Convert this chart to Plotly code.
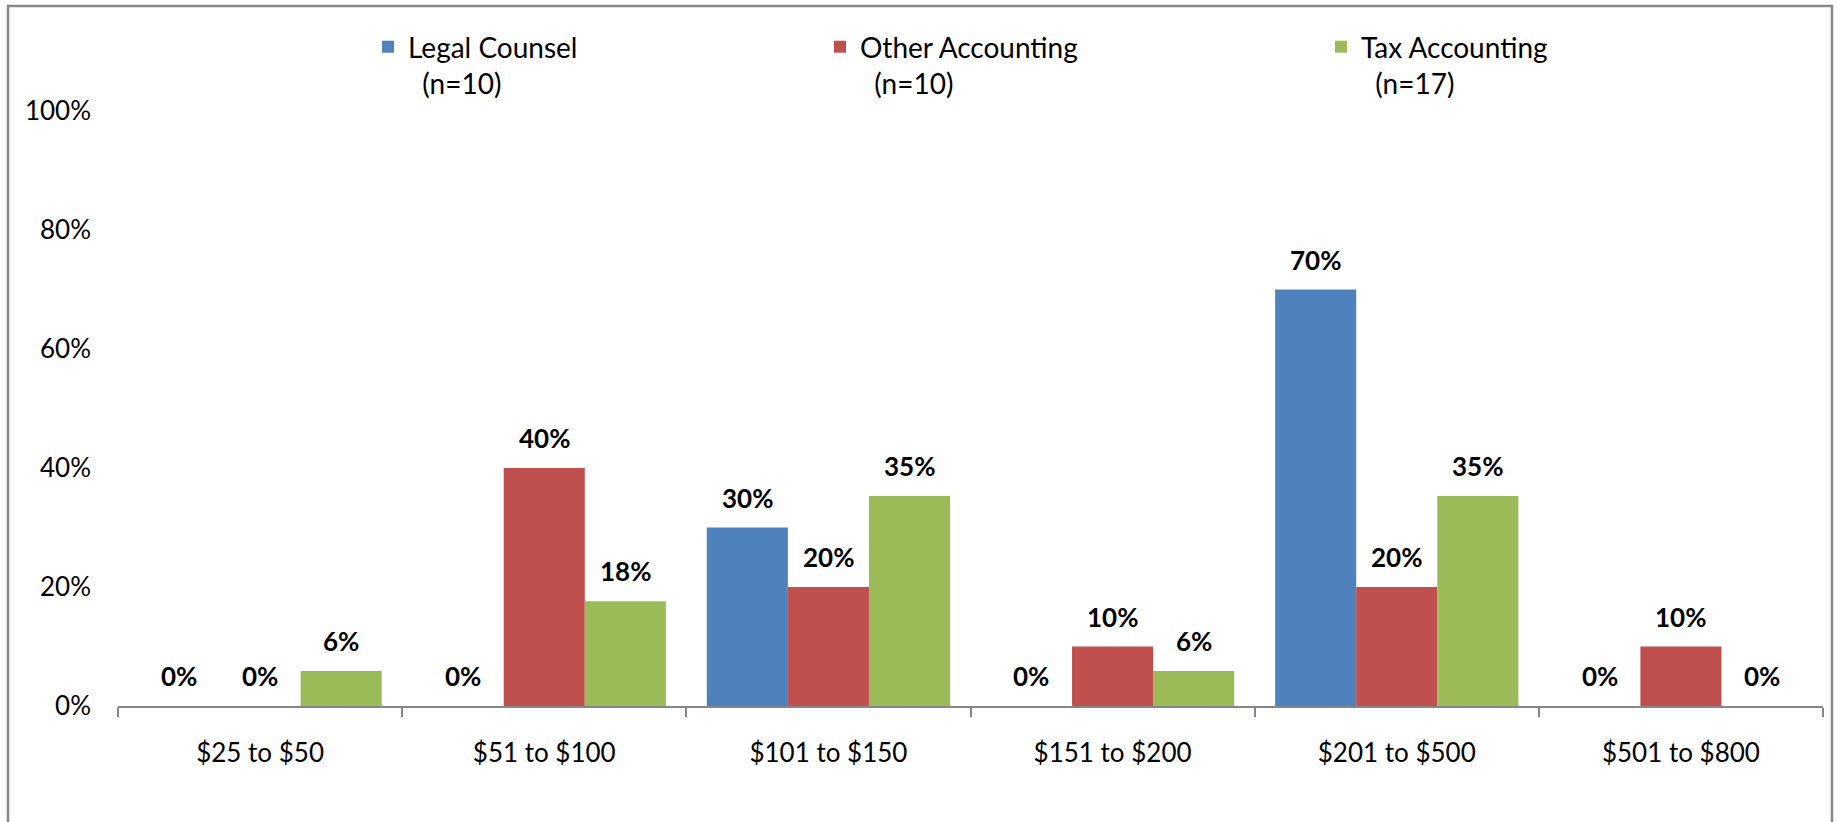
import plotly.graph_objects as go

# Hourly-rate bands and the share of respondents in each band
categories = ["$25 to $50", "$51 to $100", "$101 to $150",
              "$151 to $200", "$201 to $500", "$501 to $800"]
legal_counsel = [0.0, 0.0, 0.30, 0.0, 0.70, 0.0]
other_accounting = [0.0, 0.40, 0.20, 0.10, 0.20, 0.10]
tax_accounting = [0.059, 0.176, 0.353, 0.059, 0.353, 0.0]

series_names = ["Legal Counsel<br>\u00a0\u00a0(n=10)",
                "Other Accounting<br>\u00a0\u00a0(n=10)",
                "Tax Accounting<br>\u00a0\u00a0(n=17)"]
series_values = [legal_counsel, other_accounting, tax_accounting]
series_colors = ["#4F81BD", "#C0504D", "#9BBB59"]

# Canvas geometry (pixels)
W, H = 1837, 822
M_L, M_R, M_T, M_B = 118, 14, 111, 116
PLOT_W = W - M_L - M_R
PLOT_H = H - M_T - M_B
BARGAP = 0.144

FONT = "Lato, 'Open Sans', sans-serif"
TEXT_SIZE = 26
LEGEND_SIZE = 28

fig = go.Figure()
legend_ids = ["legend", "legend2", "legend3"]
for name, vals, color, lg in zip(series_names, series_values, series_colors, legend_ids):
    fig.add_trace(go.Bar(
        x=categories, y=vals, name=name,
        marker=dict(color=color, line=dict(width=0)),
        legend=lg,
        hovertemplate="%{x}: %{y:.0%}<extra></extra>",
    ))

# Bold value labels above each bar
cat_px = PLOT_W / len(categories)
bar_px = cat_px * (1 - BARGAP) / len(series_values)
for i, vals in enumerate(series_values):
    shift = (i - (len(series_values) - 1) / 2) * bar_px
    for cat, v in zip(categories, vals):
        fig.add_annotation(
            x=cat, y=v, xref="x", yref="y",
            text=f"<b>{v:.0%}</b>", showarrow=False,
            xanchor="center", yanchor="bottom",
            xshift=shift, yshift=12,
            font=dict(family=FONT, size=TEXT_SIZE, color="#000000"),
        )

# Outer chart border
def px_x(p):
    return (p - M_L) / PLOT_W

def px_y(p):
    return (H - M_B - p) / PLOT_H

fig.add_shape(type="rect", xref="paper", yref="paper",
              x0=px_x(8), x1=px_x(1832), y0=px_y(900), y1=px_y(6),
              line=dict(color="#878787", width=2.5), fillcolor="rgba(0,0,0,0)",
              layer="above")

legend_style = dict(orientation="v", xanchor="left", yanchor="top",
                    bgcolor="rgba(0,0,0,0)", borderwidth=0, valign="top",
                    font=dict(family=FONT, size=LEGEND_SIZE, color="#000000"))
legend_lefts = [368, 820, 1321]
legend_top = 22

fig.update_layout(
    width=W, height=H,
    margin=dict(l=M_L, r=M_R, t=M_T, b=M_B, autoexpand=False),
    paper_bgcolor="#FFFFFF", plot_bgcolor="#FFFFFF",
    barmode="group", bargap=BARGAP, bargroupgap=0,
    font=dict(family=FONT, size=TEXT_SIZE, color="#000000"),
    showlegend=True,
    legend=dict(x=px_x(legend_lefts[0]), y=px_y(legend_top), **legend_style),
    legend2=dict(x=px_x(legend_lefts[1]), y=px_y(legend_top), **legend_style),
    legend3=dict(x=px_x(legend_lefts[2]), y=px_y(legend_top), **legend_style),
    xaxis=dict(
        type="category", categoryorder="array", categoryarray=categories,
        showline=True, linecolor="#868686", linewidth=2,
        ticks="outside", tickson="boundaries", ticklen=9,
        tickcolor="#868686", tickwidth=2,
        showgrid=False, zeroline=False,
        ticklabelstandoff=23,
        tickfont=dict(family=FONT, size=TEXT_SIZE, color="#000000"),
    ),
    yaxis=dict(
        range=[0, 1], tickvals=[0, 0.2, 0.4, 0.6, 0.8, 1.0], tickformat=".0%",
        showline=False, showgrid=False, zeroline=False, ticks="",
        ticklabelstandoff=26,
        tickfont=dict(family=FONT, size=TEXT_SIZE, color="#000000"),
    ),
)

fig.write_html("out.html")
